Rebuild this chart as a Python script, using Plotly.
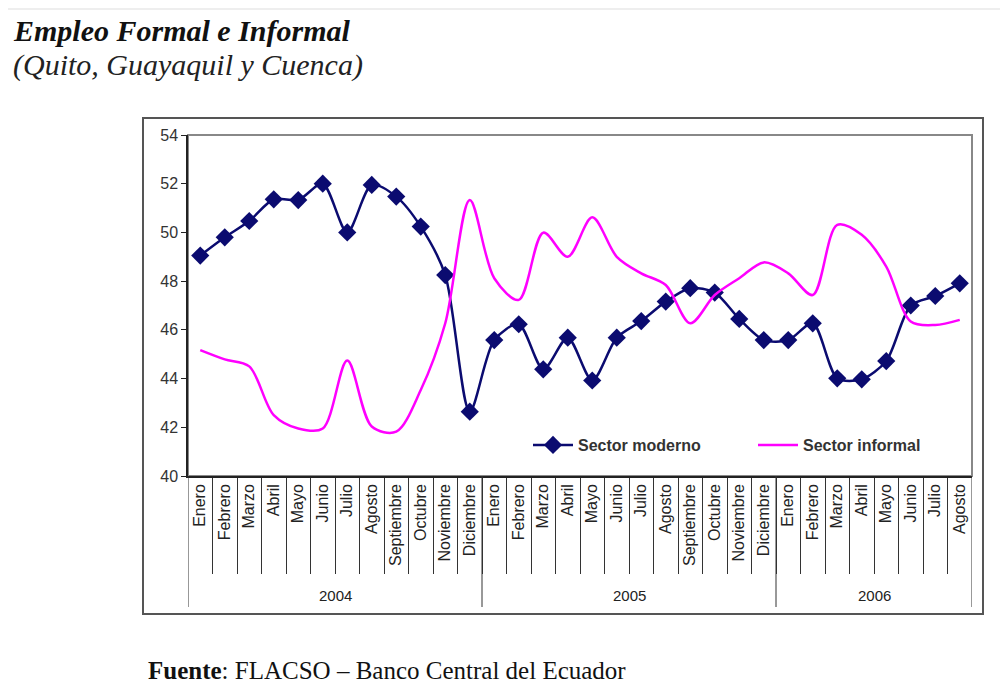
import plotly.graph_objects as go

# month labels per year (2006 only goes up to Agosto)
months_2004 = ["Enero", "Febrero", "Marzo", "Abril", "Mayo", "Junio", "Julio",
               "Agosto", "Septiembre", "Octubre", "Noviembre", "Diciembre"]
months_2005 = list(months_2004)
months_2006 = months_2004[:8]
years = ["2004", "2005", "2006"]

sector_moderno = [49.05, 49.8, 50.47, 51.36, 51.33, 52.0, 50.0, 51.95, 51.47, 50.24, 48.25, 42.64,
                  45.58, 46.23, 44.38, 45.68, 43.92, 45.68, 46.36, 47.16, 47.71, 47.53, 46.45, 45.58,
                  45.58, 46.27, 44.01, 43.97, 44.72, 47.0, 47.39, 47.91]
sector_informal = [45.17, 44.79, 44.5, 42.5, 41.95, 41.95, 44.74, 42.03, 41.82, 43.53, 46.27, 51.33,
                   48.12, 47.23, 49.99, 49.0, 50.62, 49.0, 48.32, 47.84, 46.27, 47.43, 48.12, 48.77,
                   48.32, 47.43, 50.31, 49.9, 48.6, 46.34, 46.2, 46.41]

month_labels = months_2004 + months_2005 + months_2006
x = list(range(len(month_labels)))
year_groups = [months_2004, months_2005, months_2006]

# the page body adds an 8px margin, so the figure is a bit smaller than the window
OFF = 8
W, H = 1008 - OFF, 695 - OFF
L, R, T, B = 188, 972, 135, 476   # plot area in screen pixels


def px_x(p):
    return (p - L) / (R - L)


def px_y(p):
    return (B - p) / (B - T)


SANS = "Liberation Sans, Arial, sans-serif"
SERIF = "Liberation Serif, Times New Roman, serif"
NAVY = "#0b0b70"
MAGENTA = "#ff00ff"

fig = go.Figure()
fig.add_trace(go.Scatter(
    x=x, y=sector_moderno, name="Sector moderno", mode="lines+markers",
    line=dict(color=NAVY, width=2.5, shape="spline", smoothing=0.8),
    marker=dict(symbol="diamond", size=14, color=NAVY), legend="legend", showlegend=True))
fig.add_trace(go.Scatter(
    x=x, y=sector_informal, name="Sector informal", mode="lines",
    line=dict(color=MAGENTA, width=2.5, shape="spline", smoothing=0.9),
    legend="legend2", showlegend=True))

# year separators / labels below the month labels
shapes = []
annotations = []
start = 0
for yr, months in zip(years, year_groups):
    end = start + len(months)
    annotations.append(dict(x=(start + end - 1) / 2, y=px_y(595), xref="x", yref="paper",
                            yanchor="middle", text=yr, showarrow=False,
                            font=dict(family=SANS, size=15, color="#222")))
    start = end
bounds = [-0.5]
for months in year_groups:
    bounds.append(bounds[-1] + len(months))
for b in bounds:
    shapes.append(dict(type="line", xref="x", yref="paper", x0=b, x1=b,
                       y0=0, y1=px_y(607), line=dict(color="#333", width=1)))

# plot frame and outer chart box
shapes.append(dict(type="rect", xref="paper", yref="paper", x0=0, x1=1, y0=0, y1=1,
                   line=dict(color="#888", width=2), layer="below"))
shapes.append(dict(type="rect", xref="paper", yref="paper",
                   x0=px_x(143), x1=px_x(983), y0=px_y(614), y1=px_y(118),
                   line=dict(color="#555", width=2)))
# light strip at the top of the page
shapes.append(dict(type="rect", xref="paper", yref="paper",
                   x0=px_x(0), x1=px_x(1008), y0=px_y(10), y1=px_y(OFF),
                   fillcolor="#eeeeee", line=dict(width=0)))

annotations += [
    dict(x=px_x(11), y=px_y(30), xref="paper", yref="paper", xanchor="left", yanchor="middle",
         text="<b><i>Empleo Formal e Informal</i></b>", showarrow=False,
         font=dict(family=SERIF, size=30, color="#111")),
    dict(x=px_x(11), y=px_y(65), xref="paper", yref="paper", xanchor="left", yanchor="middle",
         text="<i>(Quito, Guayaquil y Cuenca)</i>", showarrow=False,
         font=dict(family=SERIF, size=30, color="#222")),
    dict(x=px_x(146), y=px_y(670), xref="paper", yref="paper", xanchor="left", yanchor="middle",
         text="<b>Fuente</b>: FLACSO – Banco Central del Ecuador", showarrow=False,
         font=dict(family=SERIF, size=25, color="#111")),
]

legend_style = dict(orientation="h", xanchor="left", yanchor="middle", y=px_y(445),
                    bgcolor="rgba(0,0,0,0)", itemwidth=40, visible=True,
                    font=dict(family=SANS, size=16, color="#333", weight="bold"))

fig.update_layout(
    width=W, height=H, showlegend=True,
    margin=dict(l=L - OFF, r=W - (R - OFF), t=T - OFF, b=H - (B - OFF), autoexpand=False),
    paper_bgcolor="white", plot_bgcolor="white",
    shapes=shapes, annotations=annotations,
    legend=dict(x=px_x(528), **legend_style),
    legend2=dict(x=px_x(753), **legend_style),
)
fig.update_xaxes(
    range=[-0.5, len(x) - 0.5], tickmode="array", tickvals=x, ticktext=month_labels,
    tickangle=-90, ticks="", showgrid=False, zeroline=False,
    showline=True, linecolor="#222", linewidth=1.5,
    tickfont=dict(family=SANS, size=16, color="#222"),
    minor=dict(tickmode="array", tickvals=[i + 0.5 for i in x[:-1]],
               ticks="outside", ticklen=96, tickcolor="#333", tickwidth=1),
)
fig.update_yaxes(
    range=[40, 54], dtick=2, ticks="outside", ticklen=5, tickcolor="#222",
    showgrid=False, zeroline=False, showline=True, linecolor="#222", linewidth=1.5,
    tickfont=dict(family=SANS, size=16, color="#333"),
)

fig.write_html("out.html")
